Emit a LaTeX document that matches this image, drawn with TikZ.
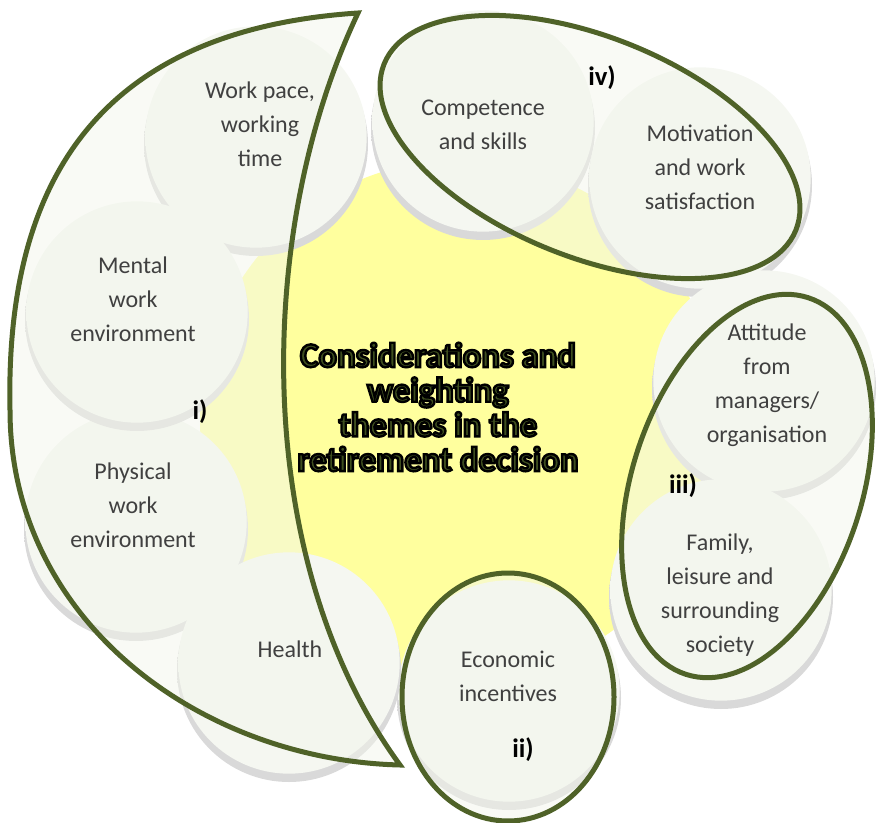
\documentclass[tikz,border=0pt]{standalone}
\usepackage{fontspec}
\setmainfont{Carlito}

\definecolor{yellowcore}{HTML}{FFFF9E}
\definecolor{bubblefill}{HTML}{F5F7F1}
\definecolor{groupline}{HTML}{4F6228}
\definecolor{groupfill}{HTML}{F3F6EC}
\definecolor{themegray}{HTML}{404040}
\definecolor{titlegreen}{HTML}{3F4F1F}

\pgfdeclareradialshading{bubbleshade}{\pgfpoint{0bp}{0bp}}{color(0bp)=(bubblefill); color(40bp)=(bubblefill); color(47bp)=(white!60!bubblefill); color(50bp)=(black!8)}
\pgfdeclareradialshading{shadowshade}{\pgfpoint{0bp}{0bp}}{color(0bp)=(black!16); color(45bp)=(black!14); color(50bp)=(white)}

\newcommand{\outlined}[1]{\special{pdf:literal direct 2 Tr 0 0 0 RG 1.8 w}#1\special{pdf:literal direct 0 Tr}}

\tikzset{
	bubble/.style={circle, minimum size=166pt, inner sep=0pt, shade, shading=bubbleshade},
	bubbleshadow/.style={shade, shading=shadowshade},
	themetext/.style={align=center, text=themegray, font=\fontsize{18}{25.5}\selectfont},
	grouping/.style={draw=groupline, line width=3.75pt, fill=groupfill, fill opacity=0.5},
	grouplabel/.style={font=\fontsize{20}{24}\selectfont\bfseries, text=black},
	titletext/.style={align=center, text=titlegreen, font=\fontsize{26}{26}\selectfont\bfseries}
}

\newcommand{\bubble}[4][]{
	\path[bubbleshadow] (#2,#3) ++(0,7) circle (112);
	\path (#2,#3) node[bubble, #1](#4){};
}
\newcommand{\theme}[5][]{
	\path (#2,#3) node[themetext, #1](#4){#5};
}

\begin{document}
\begin{tikzpicture}[x=0.75pt, y=-0.75pt]
	\useasboundingbox (0,0) rectangle (881,823);

	% yellow core
	\path (460,420) node[circle, fill=yellowcore, minimum size=390pt, inner sep=0pt](core){};

	% bubbles
	\bubble{256}{137}{workpace};
	\bubble{483}{121}{competence};
	\bubble{700}{178}{motivation};
	\bubble{764}{381}{attitude};
	\bubble{721}{590}{family};
	\bubble{509}{691}{economic};
	\bubble{136}{522}{physical};
	\bubble{289}{663}{health};
	\bubble{137}{312}{mental};

	% groups
	\draw[grouping] (358,13) .. controls (100,30) and (5,180) .. (10,410) .. controls (10,620) and (200,760) .. (400,765) .. controls (250,560) and (255,230) .. (358,13) -- cycle;
	\draw[grouping, rotate around={-22:(590,147)}] (590,147) ellipse [x radius=222, y radius=110];
	\draw[grouping, rotate around={-18:(747,486)}] (747,486) ellipse [x radius=115, y radius=198];
	\draw[grouping] (508,697) ellipse [x radius=106, y radius=124];

	% texts
	\theme{260}{124}{workpace-text}{Work pace,\\working\\time};
	\theme{483}{125}{competence-text}{Competence\\and skills};
	\theme{700}{167}{motivation-text}{Motivation\\and work\\satisfaction};
	\theme{767}{385}{attitude-text}{Attitude\\from\\managers/\\organisation};
	\theme{720}{595}{family-text}{Family,\\leisure and\\surrounding\\society};
	\theme{508}{676}{economic-text}{Economic\\incentives};
	\theme{290}{649}{health-text}{Health};
	\theme{133}{505}{physical-text}{Physical\\work\\environment};
	\theme{133}{299}{mental-text}{Mental\\work\\environment};

	\path (438,407) node[titletext](title){\outlined{Considerations and}\\\outlined{weighting}\\\outlined{themes in the}\\\outlined{retirement decision}};

	\path (200,412) node[grouplabel](label-i){i)};
	\path (523,750) node[grouplabel](label-ii){ii)};
	\path (683,486) node[grouplabel](label-iii){iii)};
	\path (602,78) node[grouplabel](label-iv){iv)};
\end{tikzpicture}
\end{document}
